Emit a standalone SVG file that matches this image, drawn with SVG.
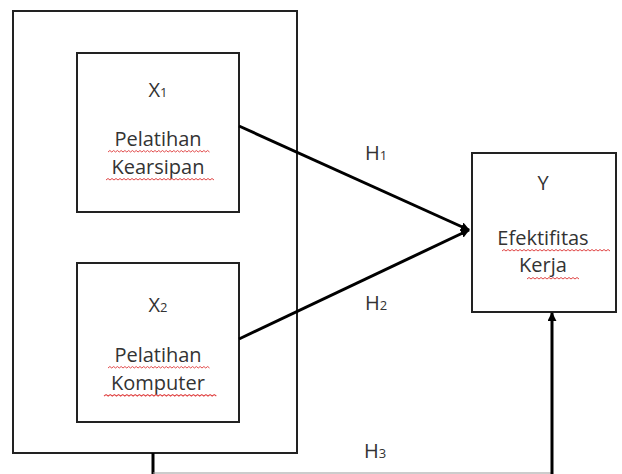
<svg xmlns="http://www.w3.org/2000/svg" width="622" height="474" viewBox="0 0 622 474">
<style>
.box{fill:#fff;stroke:#222;stroke-width:2}
.t{font-family:"Open Sans","Noto Sans","DejaVu Sans",sans-serif;font-size:20px;fill:#333;text-anchor:middle}
.sub{font-size:13px}
.c{stroke:#000;stroke-width:3;fill:none}
.w{stroke:#e04545;stroke-width:1;fill:none}
</style>
<defs>
<marker id="ah" viewBox="0 0 10 10" refX="9" refY="5" markerWidth="3" markerHeight="3" orient="auto">
<path d="M0,0 L10,5 L0,10 z" fill="#000"/>
</marker>
<path id="w13" d="m0,0l2-1.5l2 1.5l2-1.5l2 1.5l2-1.5l2 1.5l2-1.5l2 1.5l2-1.5l2 1.5l2-1.5l2 1.5l2-1.5l2 1.5l2-1.5l2 1.5l2-1.5l2 1.5l2-1.5l2 1.5l2-1.5l2 1.5l2-1.5l2 1.5l2-1.5l2 1.5"/>
<path id="w26" d="m0,0l2-1.5l2 1.5l2-1.5l2 1.5l2-1.5l2 1.5l2-1.5l2 1.5l2-1.5l2 1.5l2-1.5l2 1.5l2-1.5l2 1.5l2-1.5l2 1.5l2-1.5l2 1.5l2-1.5l2 1.5l2-1.5l2 1.5l2-1.5l2 1.5l2-1.5l2 1.5l2-1.5l2 1.5l2-1.5l2 1.5l2-1.5l2 1.5l2-1.5l2 1.5l2-1.5l2 1.5l2-1.5l2 1.5l2-1.5l2 1.5l2-1.5l2 1.5l2-1.5l2 1.5l2-1.5l2 1.5l2-1.5l2 1.5l2-1.5l2 1.5l2-1.5l2 1.5l2-1.5l2 1.5"/>
</defs>
<g id="outer"><rect class="box" x="13" y="11" width="284" height="442"/></g>
<g id="x1">
<rect class="box" x="77" y="53" width="162" height="159"/>
<text class="t" x="158" y="97">X<tspan class="sub">1</tspan></text>
<text class="t" x="158" y="146">Pelatihan</text>
<text class="t" x="158" y="174">Kearsipan</text>
<use href="#w26" class="w" x="108" y="152" transform="translate(108,152) scale(0.94,1) translate(-108,-152)"/>
<use href="#w26" class="w" x="106" y="180"/>
</g>
<g id="x2">
<rect class="box" x="77" y="263" width="162" height="159"/>
<text class="t" x="158" y="312">X<tspan class="sub">2</tspan></text>
<text class="t" x="158" y="362">Pelatihan</text>
<text class="t" x="158" y="390">Komputer</text>
<use href="#w26" class="w" x="108" y="368" transform="translate(108,368) scale(0.94,1) translate(-108,-368)"/>
<use href="#w26" class="w" x="104" y="396" transform="translate(104,396) scale(1.04,1) translate(-104,-396)"/>
</g>
<g id="y">
<rect class="box" x="472" y="153" width="144" height="159"/>
<text class="t" x="543" y="190">Y</text>
<text class="t" x="543" y="245">Efektifitas</text>
<text class="t" x="543" y="272">Kerja</text>
<use href="#w26" class="w" x="502" y="251"/>
<use href="#w13" class="w" x="527" y="279"/>
</g>
<g id="connectors">
<line class="c" x1="239" y1="126" x2="469" y2="230" marker-end="url(#ah)"/>
<line class="c" x1="239" y1="339" x2="469" y2="230" marker-end="url(#ah)"/>
<polyline class="c" points="153,453 153,475"/>
<line x1="153" y1="473" x2="552" y2="473" stroke="#999" stroke-width="1"/>
<line class="c" x1="552" y1="474" x2="552" y2="313" marker-end="url(#ah)"/>
</g>
<g id="labels">
<text class="t" x="376" y="160">H<tspan class="sub">1</tspan></text>
<text class="t" x="376" y="310">H<tspan class="sub">2</tspan></text>
<text class="t" x="375" y="458">H<tspan class="sub">3</tspan></text>
</g>
</svg>
